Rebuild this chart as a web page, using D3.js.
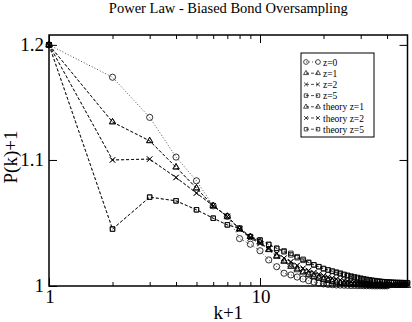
<!DOCTYPE html>
<html>
<head>
<meta charset="utf-8">
<script src="https://cdn.jsdelivr.net/npm/d3@7"></script>
<style>
  body { margin: 0; background: #fff; }
  svg { display: block; font-family: "Liberation Serif", "DejaVu Serif", serif; }
</style>
</head>
<body>
<svg id="chart"></svg>
<script>
// Data: P(k)+1, index i -> k+1 = i+1
const z0 = [1.2, 1.171, 1.136, 1.1024, 1.0828, 1.0625, 1.054, 1.0365, 1.0321, 1.027,
  1.0199, 1.0147, 1.0097, 1.0084, 1.0068, 1.0053, 1.004, 1.003, 1.0022, 1.0016,
  1.0012, 1.001, 1.0008, 1.0007, 1.0006, 1.0005, 1.0004, 1.0004, 1.0003, 1.0003,
  1.0002, 1.0002, 1.0002, 1.0001, 1.0001, 1.0001, 1.0001, 1.0001, 1.0001, 1.0001];
const z1 = [1.2, 1.132, 1.116, 1.094, 1.0768, 1.0625, 1.054, 1.0439, 1.038, 1.034,
  1.0277, 1.0224, 1.0186, 1.0147, 1.0122, 1.0104, 1.0084, 1.007, 1.0058, 1.0048,
  1.004, 1.0033, 1.0027, 1.0022, 1.0018, 1.0015, 1.0012, 1.001, 1.0008, 1.0007,
  1.0006, 1.0005, 1.0004, 1.0003, 1.0003, 1.0002, 1.0002, 1.0002, 1.0001, 1.0001];
const z2 = [1.2, 1.1, 1.1007, 1.0855, 1.0728, 1.0625, 1.054, 1.0439, 1.037, 1.033,
  1.029, 1.025, 1.0212, 1.0186, 1.0155, 1.0135, 1.0118, 1.0103, 1.0091, 1.008,
  1.007, 1.0061, 1.0053, 1.0046, 1.004, 1.0035, 1.003, 1.0026, 1.0022, 1.0019,
  1.0016, 1.0014, 1.0012, 1.001, 1.0009, 1.0008, 1.0007, 1.0006, 1.0005, 1.0004];
const z5 = [1.2, 1.044, 1.0695, 1.0665, 1.0593, 1.0526, 1.0473, 1.0447, 1.038, 1.0355,
  1.032, 1.029, 1.0269, 1.025, 1.0224, 1.0204, 1.0181, 1.016, 1.0147, 1.013,
  1.0122, 1.0114, 1.0106, 1.0098, 1.0089, 1.0082, 1.0076, 1.007, 1.0065, 1.006,
  1.0055, 1.0051, 1.0047, 1.0044, 1.0041, 1.0038, 1.0036, 1.0034, 1.0032, 1.0031,
  1.003, 1.0029, 1.0028, 1.0027, 1.0027, 1.0026, 1.0026, 1.0025, 1.0025, 1.0025];
const theory1 = [1.2, 1.132, 1.116, 1.094, 1.0768, 1.0625, 1.054, 1.0439, 1.038, 1.0335,
  1.028, 1.0232, 1.0192, 1.0158, 1.013, 1.0107, 1.0088, 1.0073, 1.006, 1.005,
  1.0042, 1.0035, 1.0029, 1.0025, 1.0021, 1.0018, 1.0016, 1.0014, 1.0012, 1.0011,
  1.001, 1.0009, 1.0008, 1.0007, 1.0007, 1.0006, 1.0006, 1.0005, 1.0005, 1.0005,
  1.0004, 1.0004, 1.0004, 1.0004, 1.0003, 1.0003, 1.0003, 1.0003, 1.0003, 1.0003];
const theory2 = [1.2, 1.1, 1.1007, 1.0855, 1.0728, 1.0625, 1.054, 1.0439, 1.037, 1.0325,
  1.0285, 1.0248, 1.0214, 1.0184, 1.0158, 1.0136, 1.0117, 1.0101, 1.0088, 1.0077,
  1.0067, 1.0059, 1.0052, 1.0046, 1.0041, 1.0037, 1.0033, 1.003, 1.0027, 1.0025,
  1.0023, 1.0021, 1.0019, 1.0018, 1.0017, 1.0016, 1.0015, 1.0014, 1.0013, 1.0013,
  1.0012, 1.0012, 1.0011, 1.0011, 1.001, 1.001, 1.001, 1.0009, 1.0009, 1.0009];
const theory5 = [1.2, 1.044, 1.0695, 1.0665, 1.0593, 1.0526, 1.0473, 1.0447, 1.038, 1.0352,
  1.0318, 1.0288, 1.0262, 1.0238, 1.0216, 1.0196, 1.0178, 1.0162, 1.0147, 1.0134,
  1.0122, 1.0111, 1.0101, 1.0092, 1.0084, 1.0077, 1.007, 1.0064, 1.0059, 1.0054,
  1.005, 1.0046, 1.0043, 1.004, 1.0037, 1.0035, 1.0033, 1.0031, 1.0029, 1.0028,
  1.0027, 1.0026, 1.0025, 1.0024, 1.0023, 1.0023, 1.0022, 1.0022, 1.0021, 1.0021];

const seriesNames = ["z=0", "z=1", "z=2", "z=5", "theory z=1", "theory z=2", "theory z=5"];
const seriesValues = [z0, z1, z2, z5, theory1, theory2, theory5];
const seriesShapes = ["circle", "triangle", "x", "square", "triangle", "x", "square"];
const seriesDash = ["1,2", "3,2", "3,2", "3,2", "3,2", "3,2", "3,2"];

const xTickValues = [1, 10];
const yTickValues = [1, 1.1, 1.2];

// Chart Dimensions
const width = 412;
const height = 322;
const plot = { left: 49, right: 407.5, top: 35, bottom: 286 };

const svg = d3.select("#chart").attr("width", width).attr("height", height);

// Scales
const xScale = d3.scaleLog().domain([1, 50]).range([plot.left, plot.right]);
const yScale = d3.scaleLog().domain([1, 1.209]).range([plot.bottom, plot.top]);

const minorX = [2, 3, 4, 5, 6, 7, 8, 9, 20, 30, 40];

// Axes (ticks drawn inward on all four sides)
function drawXAxis(axisFn, y, values, size) {
  svg.append("g")
    .attr("transform", `translate(0, ${y})`)
    .call(axisFn(xScale).tickValues(values).tickSize(size).tickFormat(""))
    .call((g) => g.select(".domain").remove())
    .call((g) => g.selectAll("line").attr("stroke", "#000").attr("stroke-width", 1));
}
drawXAxis(d3.axisTop, plot.bottom, xTickValues, 8);
drawXAxis(d3.axisTop, plot.bottom, minorX, 4);
drawXAxis(d3.axisBottom, plot.top, xTickValues, 8);
drawXAxis(d3.axisBottom, plot.top, minorX, 4);

function drawYAxis(axisFn, x) {
  svg.append("g")
    .attr("transform", `translate(${x}, 0)`)
    .call(axisFn(yScale).tickValues(yTickValues).tickSize(8).tickFormat(""))
    .call((g) => g.select(".domain").remove())
    .call((g) => g.selectAll("line").attr("stroke", "#000").attr("stroke-width", 1));
}
drawYAxis(d3.axisRight, plot.left);
drawYAxis(d3.axisLeft, plot.right);

// Tick labels
svg.append("g")
  .selectAll("text")
  .data(xTickValues)
  .join("text")
  .attr("x", (d) => xScale(d) + 1)
  .attr("y", plot.bottom + 17)
  .attr("text-anchor", "middle")
  .attr("font-size", 19)
  .text((d) => d);

svg.append("g")
  .selectAll("text")
  .data(yTickValues)
  .join("text")
  .attr("x", plot.left - 5)
  .attr("y", (d) => yScale(d) + 6)
  .attr("text-anchor", "end")
  .attr("font-size", 19)
  .text((d) => d);

// Frame
svg.append("rect")
  .attr("x", plot.left)
  .attr("y", plot.top)
  .attr("width", plot.right - plot.left)
  .attr("height", plot.bottom - plot.top)
  .attr("fill", "none")
  .attr("stroke", "#000")
  .attr("stroke-width", 1.5);

// Titles
svg.append("text")
  .attr("x", (plot.left + plot.right) / 2)
  .attr("y", 12.5)
  .attr("text-anchor", "middle")
  .attr("font-size", 14.5)
  .text("Power Law - Biased Bond Oversampling");

svg.append("text")
  .attr("x", (plot.left + plot.right) / 2)
  .attr("y", 319)
  .attr("text-anchor", "middle")
  .attr("font-size", 19)
  .text("k+1");

svg.append("text")
  .attr("transform", "translate(17, 157) rotate(-90)")
  .attr("text-anchor", "middle")
  .attr("font-size", 19)
  .text("P(k)+1");

// Markers
const symbolTypes = {
  circle: d3.symbolCircle,
  triangle: d3.symbolTriangle2,
  x: d3.symbolTimes || d3.symbolX,
  square: d3.symbolSquare2
};
const symbolSizes = { circle: 30, triangle: 28, x: 20, square: 26 };

function markerPath(shape, scale = 1) {
  return d3.symbol().type(symbolTypes[shape]).size(symbolSizes[shape] * scale)();
}

const line = d3.line()
  .x((d, i) => xScale(i + 1))
  .y((d) => yScale(d));

const plotArea = svg.append("g");

seriesValues.forEach((values, s) => {
  plotArea.append("path")
    .datum(values)
    .attr("d", line)
    .attr("fill", "none")
    .attr("stroke", "#000")
    .attr("stroke-width", 0.7)
    .attr("stroke-dasharray", seriesDash[s]);

  plotArea.append("g")
    .selectAll("path")
    .data(values)
    .join("path")
    .attr("transform", (d, i) => `translate(${xScale(i + 1)}, ${yScale(d)})`)
    .attr("d", markerPath(seriesShapes[s]))
    .attr("fill", "none")
    .attr("stroke", "#000")
    .attr("stroke-width", 0.8);
});

// Legend
const legend = svg.append("g").attr("transform", "translate(301, 53)");
legend.append("rect")
  .attr("width", 73)
  .attr("height", 84)
  .attr("fill", "#fff")
  .attr("stroke", "#000")
  .attr("stroke-width", 1);

const rows = legend.selectAll(".row")
  .data(seriesNames)
  .join("g")
  .attr("class", "row")
  .attr("transform", (d, i) => `translate(0, ${9 + i * 11.2})`);

rows.append("line")
  .attr("x1", 5)
  .attr("x2", 17)
  .attr("stroke", "#000")
  .attr("stroke-width", 0.7)
  .attr("stroke-dasharray", (d, i) => seriesDash[i]);

rows.each(function (d, i) {
  const g = d3.select(this);
  [5, 17].forEach((x) => {
    g.append("path")
      .attr("transform", `translate(${x}, 0)`)
      .attr("d", markerPath(seriesShapes[i], 0.6))
      .attr("fill", "none")
      .attr("stroke", "#000")
      .attr("stroke-width", 0.7);
  });
});

rows.append("text")
  .attr("x", 22)
  .attr("y", 3.5)
  .attr("font-size", 9.5)
  .text((d) => d);
</script>
</body>
</html>
